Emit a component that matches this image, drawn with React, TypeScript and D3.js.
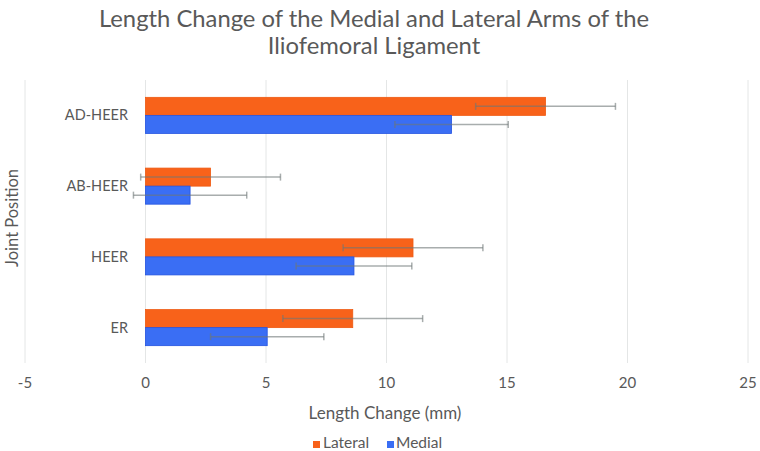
import React from "react";
import * as d3 from "d3";

const categories = ["AD-HEER", "AB-HEER", "HEER", "ER"];
const seriesNames = ["Lateral", "Medial"];
const lateralValues = [16.6, 2.7, 11.1, 8.6];
const medialValues = [12.7, 1.85, 8.65, 5.05];
const lateralErrors = [2.9, 2.9, 2.9, 2.9];
const medialErrors = [2.35, 2.35, 2.4, 2.35];
const xTicks = [-5, 0, 5, 10, 15, 20, 25];
const seriesColors = ["#F8621A", "#3A6EF4"];
const seriesStroke = ["#EE5A12", "#2453E0"];

const W = 760;
const H = 451;
const FONT = "Lato, 'Open Sans', sans-serif";
const TXT = "#595959";

export default function App() {
  const x = d3.scaleLinear().domain([-5, 25]).range([25, 748]);
  const y = d3
    .scaleBand<string>()
    .domain(categories)
    .range([80, 363])
    .paddingInner(0.49)
    .paddingOuter(0.245);
  const inner = d3.scaleBand<string>().domain(seriesNames).range([0, y.bandwidth()]);

  const data = categories.map((c, i) => ({
    c,
    vals: [
      { s: "Lateral", v: lateralValues[i], e: lateralErrors[i], k: 0 },
      { s: "Medial", v: medialValues[i], e: medialErrors[i], k: 1 },
    ],
  }));

  return (
    <svg
      width={W}
      height={H}
      style={{ position: "absolute", left: 0, top: 0, background: "#fff" }}
      fontFamily={FONT}
    >
      <rect x={0} y={0} width={W} height={H} fill="#fff" />
      <text x={374} y={27} textAnchor="middle" fontSize={23.8} fill={TXT}>
        Length Change of the Medial and Lateral Arms of the
      </text>
      <text x={374} y={54} textAnchor="middle" fontSize={23.8} fill={TXT}>
        Iliofemoral Ligament
      </text>

      {xTicks.map((t) => (
        <g key={t}>
          <line x1={x(t)} x2={x(t)} y1={80} y2={363} stroke="#E4E6E6" strokeWidth={1} />
          <text x={x(t)} y={388} textAnchor="middle" fontSize={15} fill={TXT}>
            {t}
          </text>
        </g>
      ))}

      {data.map((d) => (
        <g key={d.c}>
          <text
            x={128}
            y={(y(d.c) as number) + y.bandwidth() / 2 + 5}
            textAnchor="end"
            fontSize={14.5}
            fill={TXT}
          >
            {d.c}
          </text>
          {d.vals.map((b) => {
            const y0 = (y(d.c) as number) + (inner(b.s) as number);
            return (
              <rect
                key={b.s}
                x={x(0)}
                y={y0}
                width={x(b.v) - x(0)}
                height={inner.bandwidth()}
                fill={seriesColors[b.k]}
                stroke={seriesStroke[b.k]}
                strokeWidth={0.8}
              />
            );
          })}
          {d.vals.map((b) => {
            const yc = (y(d.c) as number) + (inner(b.s) as number) + inner.bandwidth() / 2;
            const x1 = x(b.v - b.e);
            const x2 = x(b.v + b.e);
            const col = "rgba(110,118,118,0.6)";
            return (
              <g key={b.s + "e"}>
                <line x1={x1} x2={x2} y1={yc} y2={yc} stroke={col} strokeWidth={1.5} />
                <line x1={x1} x2={x1} y1={yc - 3.5} y2={yc + 3.5} stroke={col} strokeWidth={1.5} />
                <line x1={x2} x2={x2} y1={yc - 3.5} y2={yc + 3.5} stroke={col} strokeWidth={1.5} />
              </g>
            );
          })}
        </g>
      ))}

      <text x={385} y={419} textAnchor="middle" fontSize={17} fill={TXT}>
        Length Change (mm)
      </text>
      <text
        transform="translate(18,218) rotate(-90)"
        textAnchor="middle"
        fontSize={16.5}
        fill={TXT}
      >
        Joint Position
      </text>

      <g>
        <rect x={313} y={441} width={7} height={7} fill={seriesColors[0]} />
        <text x={323} y={448} fontSize={15.5} fill={TXT}>
          Lateral
        </text>
        <rect x={387} y={441} width={7} height={7} fill={seriesColors[1]} />
        <text x={396} y={448} fontSize={15.5} fill={TXT}>
          Medial
        </text>
      </g>
    </svg>
  );
}
